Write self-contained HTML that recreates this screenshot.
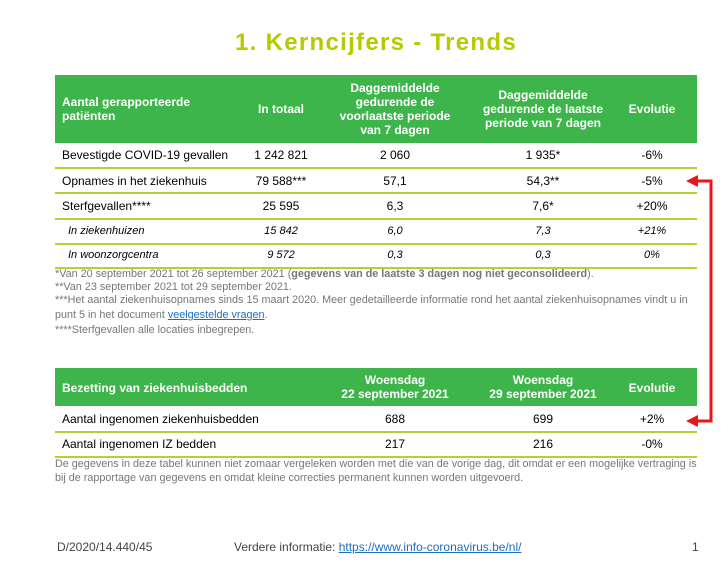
<!DOCTYPE html>
<html><head><meta charset="utf-8"><style>
body{margin:0;width:728px;height:573px;background:#fff;font-family:"Liberation Sans",sans-serif;position:relative;overflow:hidden}
.a{position:absolute;white-space:nowrap}
.hdr{position:absolute;left:55px;width:642px;background:#3db54a}
.w{color:#fff;font-weight:bold;font-size:12px;line-height:14px;text-align:center}
.c{transform:translateX(-50%);text-align:center}
.t{font-size:12px;color:#000}
.i{font-style:italic;font-size:11px}
.ln{position:absolute;left:55px;width:642px;height:2px;background:#b8cf33}
.n{font-size:10.8px;color:#777}
</style></head><body>
<div class="a" style="left:235px;top:29px;font-size:24px;font-weight:bold;color:#b7ca00;letter-spacing:1.3px">1. Kerncijfers - Trends</div>

<div class="hdr" style="top:75px;height:68px"></div>
<div class="a w" style="left:62px;top:95px;text-align:left">Aantal gerapporteerde<br>patiënten</div>
<div class="a w c" style="left:281px;top:102px">In totaal</div>
<div class="a w c" style="left:395px;top:81px">Daggemiddelde<br>gedurende de<br>voorlaatste periode<br>van 7 dagen</div>
<div class="a w c" style="left:543px;top:88px">Daggemiddelde<br>gedurende de laatste<br>periode van 7 dagen</div>
<div class="a w c" style="left:652px;top:102px">Evolutie</div>

<div class="a t" style="left:62px;top:148px">Bevestigde COVID-19 gevallen</div>
<div class="a t c" style="left:281px;top:148px">1 242 821</div>
<div class="a t c" style="left:395px;top:148px">2 060</div>
<div class="a t c" style="left:543px;top:148px">1 935*</div>
<div class="a t c" style="left:652px;top:148px">-6%</div>
<div class="ln" style="top:167px"></div>
<div class="a t" style="left:62px;top:174px">Opnames in het ziekenhuis</div>
<div class="a t c" style="left:281px;top:174px">79 588***</div>
<div class="a t c" style="left:395px;top:174px">57,1</div>
<div class="a t c" style="left:543px;top:174px">54,3**</div>
<div class="a t c" style="left:652px;top:174px">-5%</div>
<div class="ln" style="top:192px"></div>
<div class="a t" style="left:62px;top:199px">Sterfgevallen****</div>
<div class="a t c" style="left:281px;top:199px">25 595</div>
<div class="a t c" style="left:395px;top:199px">6,3</div>
<div class="a t c" style="left:543px;top:199px">7,6*</div>
<div class="a t c" style="left:652px;top:199px">+20%</div>
<div class="ln" style="top:218px"></div>
<div class="a t i" style="left:68px;top:225px">In ziekenhuizen</div>
<div class="a t i c" style="left:281px;top:225px">15 842</div>
<div class="a t i c" style="left:395px;top:225px">6,0</div>
<div class="a t i c" style="left:543px;top:225px">7,3</div>
<div class="a t i c" style="left:652px;top:225px">+21%</div>
<div class="ln" style="top:243px"></div>
<div class="a t i" style="left:68px;top:249px">In woonzorgcentra</div>
<div class="a t i c" style="left:281px;top:249px">9 572</div>
<div class="a t i c" style="left:395px;top:249px">0,3</div>
<div class="a t i c" style="left:543px;top:249px">0,3</div>
<div class="a t i c" style="left:652px;top:249px">0%</div>
<div class="ln" style="top:267px"></div>

<div class="a n" style="left:55px;top:268px">*Van 20 september 2021 tot 26 september 2021 (<b>gegevens van de laatste 3 dagen nog niet geconsolideerd</b>).</div>
<div class="a n" style="left:55px;top:281px">**Van 23 september 2021 tot 29 september 2021.</div>
<div class="a n" style="left:55px;top:294px">***Het aantal ziekenhuisopnames sinds 15 maart 2020. Meer gedetailleerde informatie rond het aantal ziekenhuisopnames vindt u in</div>
<div class="a n" style="left:55px;top:309px">punt 5 in het document <span style="color:#1a6fc0;text-decoration:underline">veelgestelde vragen</span>.</div>
<div class="a n" style="left:55px;top:324px">****Sterfgevallen alle locaties inbegrepen.</div>

<div class="hdr" style="top:368px;height:38px"></div>
<div class="a w" style="left:62px;top:381px;text-align:left">Bezetting van ziekenhuisbedden</div>
<div class="a w c" style="left:395px;top:373px">Woensdag<br>22 september 2021</div>
<div class="a w c" style="left:543px;top:373px">Woensdag<br>29 september 2021</div>
<div class="a w c" style="left:652px;top:381px">Evolutie</div>
<div class="a t" style="left:62px;top:412px">Aantal ingenomen ziekenhuisbedden</div>
<div class="a t c" style="left:395px;top:412px">688</div>
<div class="a t c" style="left:543px;top:412px">699</div>
<div class="a t c" style="left:652px;top:412px">+2%</div>
<div class="ln" style="top:431px"></div>
<div class="a t" style="left:62px;top:437px">Aantal ingenomen IZ bedden</div>
<div class="a t c" style="left:395px;top:437px">217</div>
<div class="a t c" style="left:543px;top:437px">216</div>
<div class="a t c" style="left:652px;top:437px">-0%</div>
<div class="ln" style="top:456px"></div>
<div class="a n" style="left:55px;top:458px">De gegevens in deze tabel kunnen niet zomaar vergeleken worden met die van de vorige dag, dit omdat er een mogelijke vertraging is</div>
<div class="a n" style="left:55px;top:472px">bij de rapportage van gegevens en omdat kleine correcties permanent kunnen worden uitgevoerd.</div>

<svg class="a" style="left:0;top:0" width="728" height="573">
<path d="M697 181 H711 V421 H697" fill="none" stroke="#e8151b" stroke-width="3"/>
<polygon points="686,181 698,175 698,187" fill="#e8151b"/>
<polygon points="686,421 698,415 698,427" fill="#e8151b"/>
</svg>

<div class="a" style="left:57px;top:540px;font-size:12px;color:#444">D/2020/14.440/45</div>
<div class="a" style="left:234px;top:540px;font-size:12px;color:#444">Verdere informatie: <span style="color:#1a6fc0;text-decoration:underline">https://www.info-coronavirus.be/nl/</span></div>
<div class="a" style="left:692px;top:540px;font-size:12px;color:#444">1</div>
</body></html>
